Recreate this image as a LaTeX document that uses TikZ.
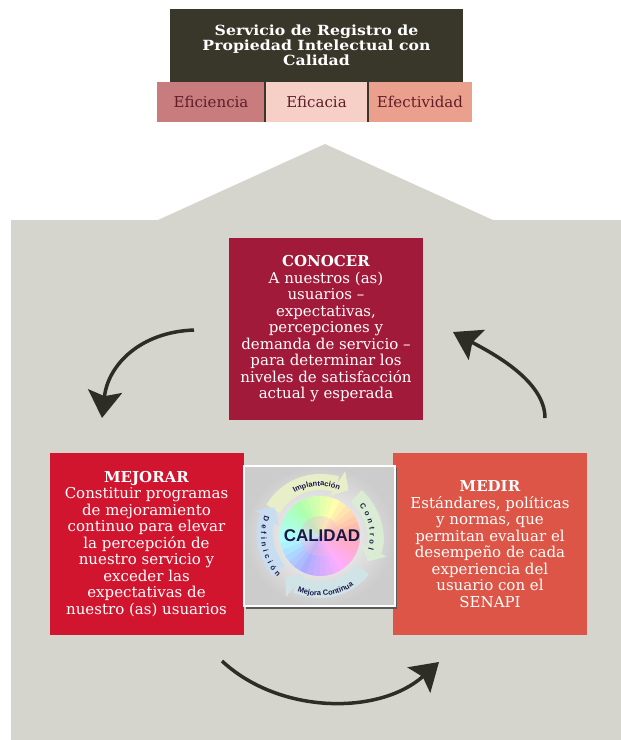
\documentclass[tikz,border=0pt]{standalone}
\usepackage{fontspec}
\setmainfont{DejaVu Serif}
\newfontfamily\headfont[FakeStretch=1.12]{DejaVu Serif}
\newfontfamily\ringfont{Liberation Sans}
\usetikzlibrary{arrows.meta,decorations.text,positioning}

\definecolor{wallgray}{RGB}{214,213,205}
\definecolor{roofdark}{RGB}{57,55,42}
\definecolor{tabA}{RGB}{201,124,126}
\definecolor{tabB}{RGB}{246,208,199}
\definecolor{tabC}{RGB}{235,160,142}
\definecolor{tabtext}{RGB}{95,30,40}
\definecolor{conocercol}{RGB}{162,26,58}
\definecolor{mejorarcol}{RGB}{210,21,47}
\definecolor{medircol}{RGB}{220,85,70}
\definecolor{arrowdark}{RGB}{45,45,38}
\definecolor{navy}{RGB}{25,25,70}
\definecolor{ringA}{RGB}{232,238,200}
\definecolor{ringB}{RGB}{218,236,212}
\definecolor{ringC}{RGB}{208,228,232}
\definecolor{ringD}{RGB}{200,222,240}

\begin{document}
\begin{tikzpicture}[x=1pt,y=-1pt]
\tikzset{card/.style = {shape=rectangle,inner sep=0pt,text=white,align=center,minimum width=194pt,minimum height=182pt,font=\fontsize{15}{16.5}\selectfont},
  tab/.style = {shape=rectangle,inner sep=0pt,minimum height=40pt,text=tabtext,font=\fontsize{15}{16}\selectfont},
  roundarrow/.style = {draw=arrowdark,line width=3.5pt,-{Stealth[length=27pt,width=34pt,inset=5pt]}},
  ringarrow/.style = {line width=16pt,-{Triangle[length=13pt,width=28pt]}},
  ringtext/.style = {decorate,decoration={text along path,text align=center,text color=navy}}}
\useasboundingbox (0,0) rectangle (621,740);
% house
\fill[wallgray] (11,740) -- (11,220) -- (158,220) -- (325,144) -- (493,220) -- (621,220) -- (621,740) -- cycle;
% title
\node[fill=roofdark,text=white,align=center,minimum width=293pt,minimum height=73pt,inner sep=0pt,
  font=\headfont\bfseries\fontsize{14}{15}\selectfont] (roof) at (316.5,45.5) {Servicio de Registro de\\Propiedad Intelectual con\\Calidad};
\foreach \x/\w/\name/\c in {211/108/Eficiencia/tabA,316.5/103/Eficacia/tabB,420/104/Efectividad/tabC} {
    \node[tab,fill=\c,minimum width=\w pt] (\name) at (\x,102) {\name};
}
\foreach \name in {Eficiencia,Eficacia} {
    \draw[roofdark,line width=2pt] (\name.north east) -- (\name.south east);
}
% cards
\node[card,fill=conocercol] (conocer) at (326,329) {\textbf{CONOCER}\\A nuestros (as)\\usuarios –\\expectativas,\\percepciones y\\demanda de servicio –\\para determinar los\\niveles de satisfacción\\actual y esperada};
\node[card,fill=mejorarcol] (mejorar) at (146.5,544) {\textbf{MEJORAR}\\Constituir programas\\de mejoramiento\\continuo para elevar\\la percepción de\\nuestro servicio y\\exceder las\\expectativas de\\nuestro (as) usuarios};
\node[card,fill=medircol] (medir) at (490,544) {\textbf{MEDIR}\\Estándares, políticas\\y normas, que\\permitan evaluar el\\desempeño de cada\\experiencia del\\usuario con el\\SENAPI};
% emblem
\begin{scope}[shift={(320,536)},x=1pt,y=1pt]
\fill[gray!70!black] (-74,-73) rectangle (77,68);
\shade[inner color=white,outer color=gray!40,draw=white,line width=2pt] (-76,-70) rectangle (75,70);
\foreach \a in {0,10,...,350} {
    \definecolor{wedge}{Hsb}{\a,0.32,1}
    \fill[wedge] (0,0) -- (\a:40) arc (\a:\a+11:40) -- cycle;
}
\fill[magenta!30,opacity=0.35] (0,0) circle (20);
\draw[ringarrow,draw=ringA] (150:54) arc (150:58:54);
\draw[ringarrow,draw=ringB] (48:54) arc (48:-28:54);
\draw[ringarrow,draw=ringC] (-38:54) arc (-38:-130:54);
\draw[ringarrow,draw=ringD] (-140:54) arc (-140:-212:54);
\path[ringtext,decoration={text={|\ringfont\bfseries\fontsize{7.5}{7.5}\selectfont|Implantación}}] (130:50) arc (130:58:50);
\path[ringtext,decoration={text align={fit to path},text={|\ringfont\bfseries\fontsize{7.5}{7.5}\selectfont|Control}}] (38:50) arc (38:-16:50);
\path[ringtext,decoration={text={|\ringfont\bfseries\fontsize{7.5}{7.5}\selectfont|Mejora Continua}}] (238:60) arc (238:314:60);
\path[ringtext,decoration={text align={fit to path},text={|\ringfont\bfseries\fontsize{7.5}{7.5}\selectfont|Definición}}] (160:59) arc (160:224:59);
\node[font=\ringfont\bfseries\fontsize{17}{17}\selectfont,text=navy] (calidad) at (2,0) {CALIDAD};
\end{scope}
% arrows
\coordinate (knowOut) at (194,330);
\coordinate (improveIn) at (102,418);
\coordinate (improveOut) at (222,661);
\coordinate (measureIn) at (439,662);
\coordinate (measureOut) at (545,418);
\coordinate (knowIn) at (453,332);
\draw[roundarrow] (knowOut) .. controls (140,332) and (108,365) .. (improveIn);
\draw[roundarrow] (improveOut) .. controls (280,715) and (380,715) .. (measureIn);
\draw[roundarrow] (measureOut) .. controls (545,380) and (490,352) .. (knowIn);
\end{tikzpicture}
\end{document}
